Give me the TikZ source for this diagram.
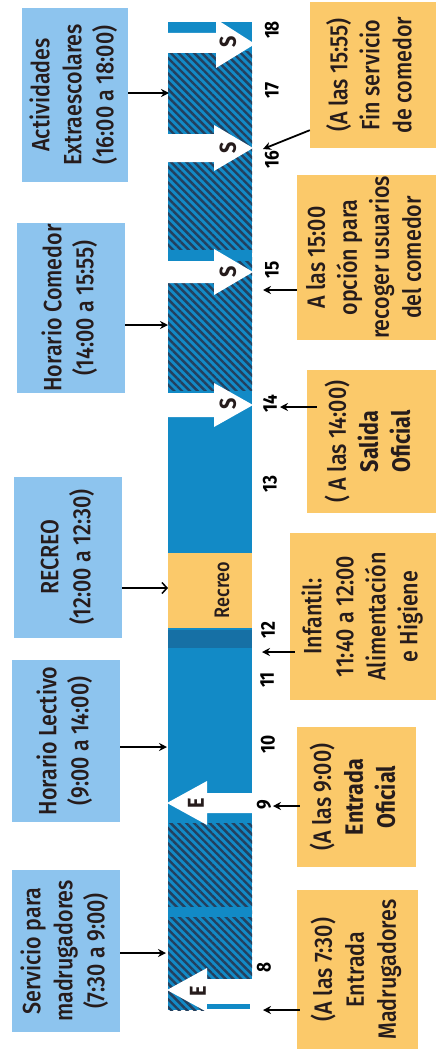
\documentclass[tikz,border=0pt]{standalone}
\usepackage{fontspec}
\setmainfont{Fira Sans}[FakeStretch=0.86, UprightFont={* Medium}, BoldFont={* Bold}]
\usetikzlibrary{patterns.meta,arrows.meta}
\definecolor{barblue}{RGB}{18,138,198}
\definecolor{darkband}{RGB}{22,112,165}
\definecolor{hatchcol}{RGB}{36,64,94}
\definecolor{lightblue}{RGB}{141,196,238}
\definecolor{orangebox}{RGB}{251,201,106}
\definecolor{txt}{RGB}{38,28,28}
\newcommand{\boxtxt}[1]{\fontsize{25}{32}\selectfont\begin{tabular}{@{}c@{}}#1\end{tabular}}
\tikzset{
  lbox/.style={fill=lightblue, inner sep=0pt, text=txt},
  rbox/.style={fill=orangebox, inner sep=0pt, text=txt},
  arr/.style={-{Stealth[length=8pt,width=8pt]}, line width=1.8pt, black},
  openarr/.style={-{Straight Barb[length=5pt,width=11pt,line width=1.5pt]}, line width=1.8pt, black},
  ticklab/.style={font=\fontsize{20}{20}\selectfont\bfseries, rotate=90, text=black, inner sep=0pt},
  letter/.style={font=\fontsize{23}{23}\selectfont\bfseries, rotate=90, text=txt, inner sep=0pt},
  hatch/.style={pattern={Lines[angle=-45,distance=5.5pt,line width=2.4pt]}, pattern color=hatchcol},
  whitearrow/.style={fill=white}
}
\begin{document}
\begin{tikzpicture}[x=1pt,y=-1pt]
\useasboundingbox (0,0) rectangle (436,1049);

% ---------------- central bar ----------------
\fill[barblue] (168,22) rectangle (252,1010);
\fill[hatch] (168,52) rectangle (252,390);
\fill[hatch] (168,823) rectangle (252,1010);
\fill[barblue] (168,250) rectangle (252,261);
\fill[barblue] (168,907) rectangle (252,917);
\fill[orangebox] (168,553) rectangle (252,628);
\fill[darkband] (168,630) rectangle (252,648);

% white arrows (S = salida, pointing right)
\fill[whitearrow] (168,33) -- (216,33) -- (216,19) -- (255,44) -- (216,68) -- (216,53) -- (168,53) -- cycle;
\fill[whitearrow] (168,134) -- (214,134) -- (214,125) -- (253,148) -- (214,171) -- (214,162) -- (168,162) -- cycle;
\fill[whitearrow] (168,261) -- (214,261) -- (214,249) -- (253,272) -- (214,295) -- (214,283) -- (168,283) -- cycle;
\fill[whitearrow] (168,393) -- (214,393) -- (214,383) -- (253,405) -- (214,427) -- (214,417) -- (168,417) -- cycle;
% white arrows (E = entrada, pointing left)
\fill[whitearrow] (253,793) -- (207,793) -- (207,781) -- (167,803) -- (207,825) -- (207,813) -- (253,813) -- cycle;
\fill[whitearrow] (253,979) -- (207,979) -- (207,968) -- (167,990) -- (207,1012) -- (207,1001) -- (253,1001) -- cycle;
\fill[white] (207,1001) rectangle (253,1012);
\fill[barblue] (207,1004) rectangle (250,1009);

\node[letter] (s18) at (228,42) {S};
\node[letter] (s16) at (228,148) {S};
\node[letter] (s15) at (228,272) {S};
\node[letter] (s14) at (228,404) {S};
\node[letter] (e9) at (196,803) {E};
\node[letter] (e8) at (198,991) {E};
\node[rotate=90, font=\fontsize{21}{21}\selectfont, text=txt] (recreolab) at (222,590) {Recreo};

% ---------------- hour labels ----------------
\node[ticklab] (t18) at (272,30) {18};
\node[ticklab] (t17) at (272,90) {17};
\node[ticklab] (t16) at (272,160) {16};
\node[ticklab] (t15) at (272,270) {15};
\node[ticklab] (t14) at (270,404) {14};
\node[ticklab] (t13) at (270,484) {13};
\node[ticklab] (t12) at (268,630) {12};
\node[ticklab] (t11) at (267,680) {11};
\node[ticklab] (t10) at (268,744) {10};
\node[ticklab] (t9) at (264,805) {9};
\node[ticklab] (t8) at (264,967) {8};

% ---------------- left boxes ----------------
\node[lbox, minimum width=106pt, minimum height=174pt] (act) at (75,95)
  {\rotatebox{90}{\boxtxt{Actividades\\Extraescolares\\(16:00 a 18:00)}}};
\node[lbox, minimum width=108pt, minimum height=170pt] (com) at (71,308)
  {\rotatebox{90}{\boxtxt{Horario Comedor\\(14:00 a 15:55)}}};
\node[lbox, minimum width=108pt, minimum height=161pt] (rec) at (68,557)
  {\rotatebox{90}{\boxtxt{RECREO\\(12:00 a 12:30)}}};
\node[lbox, minimum width=108pt, minimum height=162pt] (lec) at (66,741)
  {\rotatebox{90}{\boxtxt{Horario Lectivo\\(9:00 a 14:00)}}};
\node[lbox, minimum width=108pt, minimum height=162pt] (mad) at (66,951)
  {\rotatebox{90}{\boxtxt{Servicio para\\madrugadores\\(7:30 a 9:00)}}};

% ---------------- right boxes ----------------
\node[rbox, minimum width=126pt, minimum height=146pt] (fin) at (373,75)
  {\rotatebox{90}{\boxtxt{(A las 15:55)\\Fin servicio\\de comedor}}};
\node[rbox, minimum width=139pt, minimum height=165pt] (quince) at (366.5,257.5)
  {\rotatebox{90}{\boxtxt{A las 15:00\\opción para\\recoger usuarios\\del comedor}}};
\node[rbox, minimum width=129pt, minimum height=143pt] (salida) at (371.5,441.5)
  {\rotatebox{90}{\boxtxt{( A las 14:00)\\\textbf{Salida}\\\textbf{Oficial}}}};
\node[rbox, minimum width=146pt, minimum height=167pt] (inf) at (363,616.5)
  {\rotatebox{90}{\boxtxt{Infantil:\\11:40 a 12:00\\Alimentación\\e Higiene}}};
\node[rbox, minimum width=119pt, minimum height=140pt] (ent) at (356.5,797)
  {\rotatebox{90}{\boxtxt{(A las 9:00)\\\textbf{Entrada}\\\textbf{Oficial}}}};
\node[rbox, minimum width=121pt, minimum height=159pt] (madr) at (357.5,969.5)
  {\rotatebox{90}{\boxtxt{(A las 7:30)\\Entrada\\Madrugadores}}};

% ---------------- arrow targets ----------------
\coordinate (b17) at (169,93);
\coordinate (bcom) at (168,325);
\coordinate (brec) at (168,588);
\coordinate (blec) at (167,747);
\coordinate (bmad) at (166,953);
\coordinate (p16) at (263,149);
\coordinate (p15) at (263,290);
\coordinate (p14) at (280,407);
\coordinate (p12) at (262,652);
\coordinate (p9) at (273,806);
\coordinate (p8) at (263,1010);

% ---------------- connectors ----------------
\draw[arr] (act.east |- b17) -- (b17);
\draw[arr] (com.east |- bcom) -- (bcom);
\draw[openarr] (rec.east |- brec) -- (brec);
\draw[arr] (lec.east |- blec) -- (blec);
\draw[arr] (mad.east |- bmad) -- (bmad);

\draw[arr] ([yshift=18pt]fin.south west) -- (p16);
\draw[arr] (quince.west |- p15) -- (p15);
\draw[arr] ([xshift=10pt]salida.west |- p14) -- (p14);
\draw[arr] ([xshift=5pt]inf.west |- p12) -- (p12);
\draw[arr] ([xshift=3pt]ent.west |- p9) -- (p9);
\draw[arr] ([xshift=3pt]madr.west |- p8) -- (p8);
\end{tikzpicture}
\end{document}
